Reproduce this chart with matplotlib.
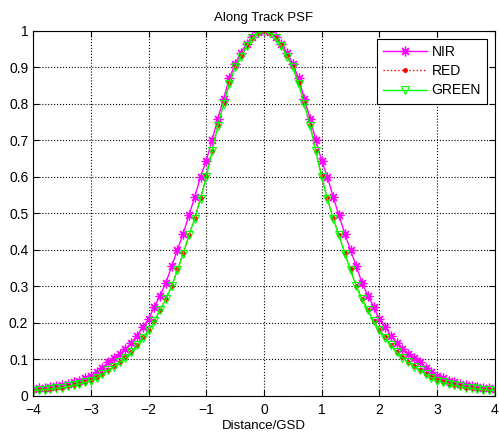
import matplotlib
matplotlib.use("Agg")
import matplotlib.pyplot as plt

plt.rcParams['font.family'] = ['Liberation Sans', 'DejaVu Sans']

# distance in GSD, sampled every 0.1 from 0 to 4 (curves are symmetric)
x_half = [round(0.1 * i, 1) for i in range(41)]

nir_half = [1.0, 0.996, 0.983, 0.965, 0.94, 0.91, 0.87, 0.815, 0.76, 0.70,
            0.645, 0.60, 0.545, 0.495, 0.445, 0.40, 0.355, 0.31, 0.275, 0.245,
            0.21, 0.19, 0.165, 0.145, 0.13, 0.115, 0.103, 0.092, 0.078, 0.066,
            0.055, 0.048, 0.042, 0.037, 0.033, 0.03, 0.027, 0.025, 0.023, 0.021,
            0.02]
red_half = [1.0, 0.995, 0.981, 0.961, 0.932, 0.902, 0.857, 0.802, 0.742, 0.672,
            0.603, 0.543, 0.488, 0.442, 0.392, 0.347, 0.302, 0.267, 0.236, 0.206,
            0.181, 0.161, 0.141, 0.121, 0.106, 0.093, 0.081, 0.071, 0.061, 0.051,
            0.043, 0.038, 0.033, 0.029, 0.026, 0.023, 0.021, 0.019, 0.017, 0.016,
            0.015]
green_half = [1.0, 0.995, 0.98, 0.96, 0.93, 0.90, 0.855, 0.80, 0.74, 0.67,
              0.60, 0.54, 0.485, 0.44, 0.39, 0.345, 0.30, 0.265, 0.235, 0.205,
              0.18, 0.16, 0.14, 0.12, 0.105, 0.092, 0.08, 0.07, 0.06, 0.05,
              0.042, 0.037, 0.033, 0.029, 0.026, 0.023, 0.021, 0.019, 0.017, 0.016,
              0.015]

x = [-v for v in x_half[::-1]] + x_half[1:]
nir = nir_half[::-1] + nir_half[1:]
red = red_half[::-1] + red_half[1:]
green = green_half[::-1] + green_half[1:]

fig = plt.figure(figsize=(4.99, 4.34), dpi=100)
ax = fig.add_axes([0.0665, 0.0876, 0.925, 0.841])

# MATLAB style asterisk marker
ax.plot(x, nir, ls="-", color="#ff00ff", marker=(8, 2, 0), ms=7, mew=0.9, lw=1, label="NIR")
ax.plot(x, red, ls=":", color="red", marker=".", ms=5, lw=1, label="RED")
ax.plot(x, green, ls="-", color="#00ff00", marker="v", ms=6, mfc="none", mew=0.8, lw=1, label="GREEN")

ax.set_xlim(-4, 4)
ax.set_ylim(0, 1)
ax.set_xticks(range(-4, 5))
ax.set_yticks([i / 10 for i in range(11)])
ax.set_yticklabels(["0", "0.1", "0.2", "0.3", "0.4", "0.5", "0.6", "0.7", "0.8", "0.9", "1"])
ax.tick_params(direction="in", top=True, right=True, labelsize=10, length=4)
ax.tick_params(axis="x", pad=5)
ax.grid(True, ls=":", color="black", lw=0.8)
ax.set_title("Along Track PSF", fontsize=9.5, pad=7)
ax.set_xlabel("Distance/GSD", fontsize=9.5, labelpad=2)

leg = ax.legend(loc="upper right", fontsize=10, fancybox=False, framealpha=1,
                edgecolor="black", borderaxespad=0.55, handlelength=3.2,
                labelspacing=0.38, borderpad=0.45, handletextpad=0.3)
leg.get_frame().set_linewidth(0.8)

fig.savefig("out.png", dpi=100)
